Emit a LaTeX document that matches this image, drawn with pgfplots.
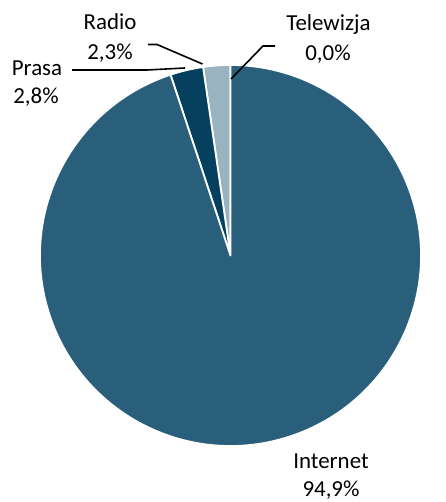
\documentclass[border=0pt]{standalone}
\usepackage{pgfplots}
\pgfplotsset{compat=1.18}
\usepackage{pgfplotstable}
\usepackage{fontspec}
\setmainfont{Carlito}
\definecolor{cInternet}{HTML}{2A5F7C}
\definecolor{cPrasa}{HTML}{05405F}
\definecolor{cRadio}{HTML}{9AB3C1}
\pgfplotstableread{
label value
Radio 2.3
Prasa 2.8
Internet 94.9
Telewizja 0.0
}\piedata
\pgfplotstablegetelem{0}{value}\of\piedata \edef\vA{\pgfplotsretval}%
\pgfplotstablegetelem{1}{value}\of\piedata \edef\vB{\pgfplotsretval}%
\pgfplotstablegetelem{2}{value}\of\piedata \edef\vC{\pgfplotsretval}%
\pgfplotstablegetelem{3}{value}\of\piedata \edef\vD{\pgfplotsretval}%
\pgfmathsetmacro\aA{90}%
\pgfmathsetmacro\aB{\aA+3.6*\vA}%
\pgfmathsetmacro\aC{\aB+3.6*\vB}%
\pgfmathsetmacro\aD{\aC+3.6*\vC}%
\pgfmathsetmacro\aE{\aD+3.6*\vD}%
\begin{document}%
\begin{tikzpicture}
\begin{axis}[hide axis, scale only axis, width=421bp, height=502bp,
  xmin=0, xmax=421, ymin=0, ymax=502, clip=false]
\path (axis cs:0,0) rectangle (axis cs:421,502);
\def\cx{230.5}\def\cy{246.5}\def\R{190.5bp}
\fill[cRadio, draw=white, line width=1.8bp, line join=round] (axis cs:\cx,\cy) -- ++(\aA:\R) arc[start angle=\aA, end angle=\aB, radius=\R] -- cycle;
\fill[cPrasa, draw=white, line width=1.8bp, line join=round] (axis cs:\cx,\cy) -- ++(\aB:\R) arc[start angle=\aB, end angle=\aC, radius=\R] -- cycle;
\fill[cInternet, draw=white, line width=1.8bp, line join=round] (axis cs:\cx,\cy) -- ++(\aC:\R) arc[start angle=\aC, end angle=\aD, radius=\R] -- cycle;
\draw[white, line width=1.8bp] (axis cs:\cx,\cy) -- ++(\aD:\R);
% leader lines
\draw[black, line width=1.6bp] (axis cs:231,423) -- (axis cs:263,456) -- (axis cs:275,456);
\draw[black, line width=1.6bp] (axis cs:148,457.5) -- (axis cs:157,457.5) -- (axis cs:202.5,438);
\draw[black, line width=1.6bp] (axis cs:72,432) -- (axis cs:147,432) -- (axis cs:185,434);
% labels
\begin{scope}[every node/.style={anchor=base, inner sep=0pt, font=\fontsize{23}{27}\selectfont}]
\node at (axis cs:110,472) {Radio};
\node at (axis cs:110,442) {2,3\%};
\node at (axis cs:328.5,471) {Telewizja};
\node at (axis cs:328,441) {0,0\%};
\node at (axis cs:37,426) {Prasa};
\node at (axis cs:36,398) {2,8\%};
\node at (axis cs:331,33) {Internet};
\node at (axis cs:331,6) {94,9\%};
\end{scope}
\end{axis}
\end{tikzpicture}%
\end{document}
